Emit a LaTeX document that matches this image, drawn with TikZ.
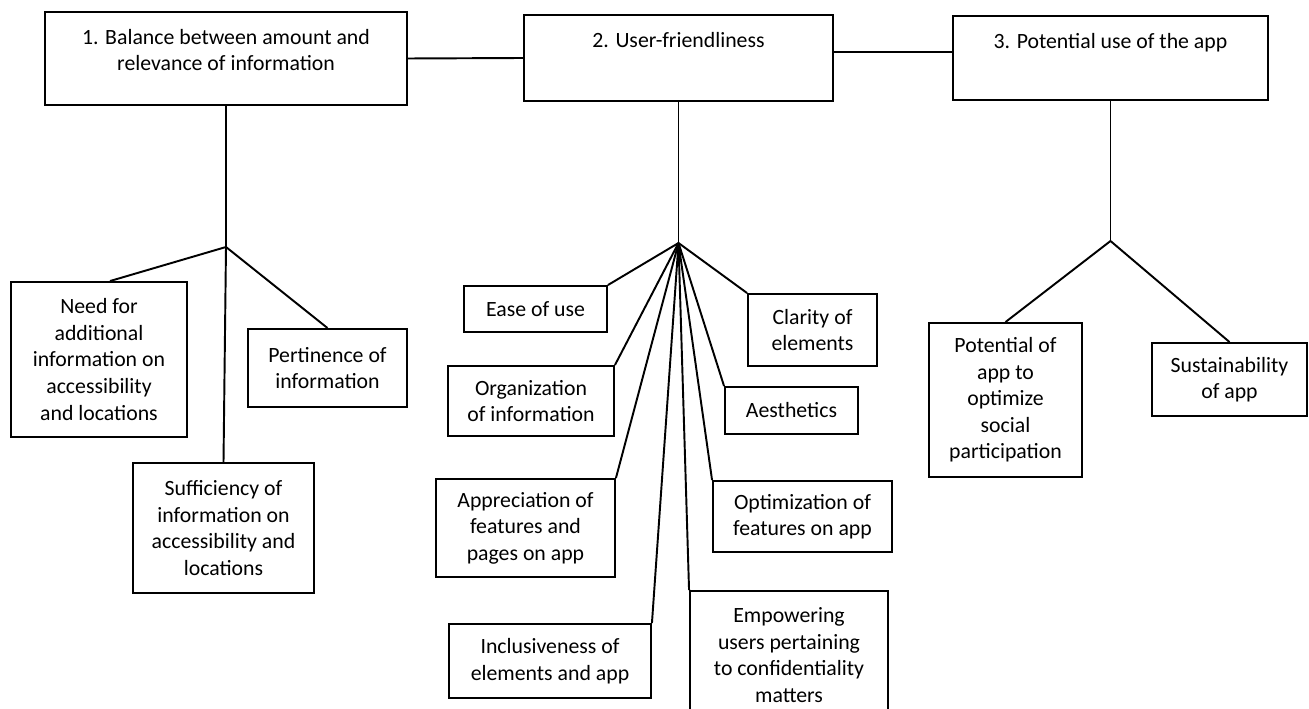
\documentclass[tikz,border=0pt]{standalone}
\usepackage{fontspec}
\setmainfont{Carlito}
\begin{document}
\begin{tikzpicture}[x=0.02cm, y=-0.02cm, line width=1.1pt,
  headbox/.style={draw, rectangle, inner sep=0pt},
  headtxt/.style={align=center, inner sep=0pt, anchor=north, yshift=-0.34cm, font=\fontsize{12.4}{15.1}\selectfont},
  leaf/.style={draw, rectangle, align=center, inner sep=0pt, font=\fontsize{12.4}{15.1}\selectfont}]
\useasboundingbox (0,0) rectangle (1309,709);

% themes
\node[headbox, minimum width=7.24cm, minimum height=1.86cm] (bal) at (226,58.5) {};
\node[headtxt] (baltxt) at (bal.north) {1. Balance between amount and\\relevance of information};

\node[headbox, minimum width=6.18cm, minimum height=1.72cm] (ufr) at (678.5,58) {};
\node[headtxt] (ufrtxt) at (ufr.north) {2. User-friendliness};

\node[headbox, minimum width=6.3cm, minimum height=1.68cm] (pot) at (1110.5,58) {};
\node[headtxt] (pottxt) at (pot.north) {3. Potential use of the app};

\draw (bal.east) -- (ufr.west);
\draw ([yshift=0.12cm]ufr.east) -- ([yshift=0.12cm]pot.west);

% sub-themes of 1
\node[leaf, minimum width=3.52cm, minimum height=3.1cm] (need) at (99,359.5) {Need for\\additional\\information on\\accessibility\\and locations};
\node[leaf, minimum width=3.18cm, minimum height=1.56cm] (pert) at (327.5,368) {Pertinence of\\information};
\node[leaf, minimum width=3.62cm, minimum height=2.6cm] (suff) at (223.5,528) {Sufficiency of\\information on\\accessibility and\\locations};

\coordinate (j1) at (226,247);
\draw (bal.south) -- (j1);
\draw (j1) -- ([xshift=0.22cm]need.north);
\draw (j1) -- (pert.north);
\draw (j1) -- (suff.north);

% sub-themes of 2
\node[leaf, minimum width=2.86cm, minimum height=0.92cm] (ease) at (535.5,309) {Ease of use};
\node[leaf, minimum width=2.58cm, minimum height=1.44cm] (clar) at (812.5,330) {Clarity of\\elements};
\node[leaf, minimum width=3.32cm, minimum height=1.4cm] (org) at (531,401) {Organization\\of information};
\node[leaf, minimum width=2.66cm, minimum height=0.94cm] (aest) at (791.5,410.5) {Aesthetics};
\node[leaf, minimum width=3.58cm, minimum height=1.96cm] (appr) at (525.5,528) {Appreciation of\\features and\\pages on app};
\node[leaf, minimum width=3.58cm, minimum height=1.42cm] (optm) at (802.5,516.5) {Optimization of\\features on app};
\node[leaf, minimum width=4.04cm, minimum height=1.48cm] (incl) at (550,661) {Inclusiveness of\\elements and app};
\node[leaf, minimum width=3.96cm, minimum height=2.56cm] (empw) at (789,655) {Empowering\\users pertaining\\to confidentiality\\matters};

\coordinate (j2) at (678.5,243);
\draw (ufr.south) -- (j2);
\draw (j2) -- (ease.north east);
\draw (j2) -- (clar.north west);
\draw (j2) -- (org.north east);
\draw (j2) -- (aest.north west);
\draw (j2) -- (appr.north east);
\draw (j2) -- (optm.north west);
\draw (j2) -- (incl.north east);
\draw (j2) -- (empw.north west);

% sub-themes of 3
\node[leaf, minimum width=3.06cm, minimum height=3.08cm] (potl) at (1005.5,400) {Potential of\\app to\\optimize\\social\\participation};
\node[leaf, minimum width=3.1cm, minimum height=1.46cm] (sust) at (1229.5,379.5) {Sustainability\\of app};

\coordinate (j3) at (1110.5,241);
\draw (pot.south) -- (j3);
\draw (j3) -- (potl.north);
\draw (j3) -- (sust.north);
\end{tikzpicture}
\end{document}
